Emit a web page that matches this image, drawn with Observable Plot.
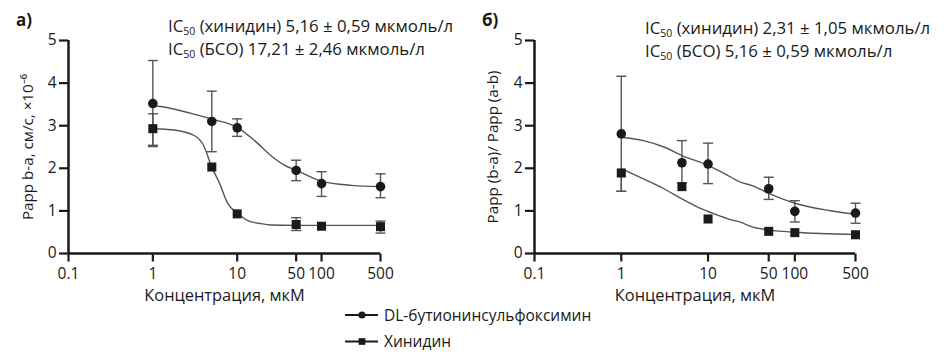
<!DOCTYPE html>
<html>
<head>
<meta charset="utf-8">
<script src="https://cdn.jsdelivr.net/npm/d3@7"></script>
<script src="https://cdn.jsdelivr.net/npm/@observablehq/plot@0.6"></script>
<style>
  html, body { margin: 0; padding: 0; background: #fff; }
  body { width: 946px; height: 363px; overflow: hidden; font-family: "Open Sans", "Noto Sans", sans-serif; color: #1a1a1a; }
  #wrap { position: relative; width: 946px; height: 363px; }
  .panel { position: absolute; top: 0; }
  .tag { position: absolute; font-weight: bold; font-size: 17px; }
  .note { position: absolute; font-size: 16.8px; line-height: 23px; white-space: nowrap; }
  .note sub { font-size: 10.5px; vertical-align: -3px; line-height: 0; }
</style>
</head>
<body>
<div id="wrap"></div>
<script>
// ---------- data ----------
const conc = [1, 5, 10, 50, 100, 500];
const xTicks = [0.1, 1, 10, 50, 100, 500];
const yTicks = [0, 1, 2, 3, 4, 5];
const seriesNames = ["DL-бутионинсульфоксимин", "Хинидин"];

// panel а) Papp b-a
const aBsoMean = [3.52, 3.10, 2.95, 1.95, 1.64, 1.57];
const aBsoLo   = [2.51, 2.39, 2.75, 1.71, 1.34, 1.31];
const aBsoHi   = [4.53, 3.81, 3.16, 2.19, 1.92, 1.87];
const aQuiMean = [2.93, 2.03, 0.93, 0.68, 0.64, 0.63];
const aQuiLo   = [2.54, null, null, 0.54, null, 0.48];
const aQuiHi   = [3.28, null, null, 0.84, null, 0.76];
const aBsoFitX = [1, 1.24, 2.83, 4.9, 10.2, 16.1, 25, 36.6, 50.5, 100, 227, 500];
const aBsoFitY = [3.47, 3.45, 3.29, 3.16, 2.95, 2.65, 2.30, 2.07, 1.95, 1.70, 1.60, 1.57];
const aQuiFitX = [1, 1.79, 3.1, 4.08, 4.9, 6.2, 7.75, 10, 13.4, 19.3, 25, 50, 100, 500];
const aQuiFitY = [2.93, 2.90, 2.77, 2.50, 2.07, 1.64, 1.17, 0.95, 0.77, 0.70, 0.67, 0.66, 0.66, 0.66];

// panel б) Papp (b-a)/Papp (a-b)
const bBsoMean = [2.81, 2.13, 2.10, 1.52, 0.99, 0.95];
const bBsoLo   = [1.46, 1.65, 1.64, 1.27, 0.74, 0.71];
const bBsoHi   = [4.16, 2.65, 2.59, 1.79, 1.24, 1.18];
const bQuiMean = [1.89, 1.57, 0.81, 0.52, 0.49, 0.44];
const bQuiLo   = [1.46, null, null, null, null, null];
const bQuiHi   = [null, null, null, null, null, null];
const bBsoFitX = [1, 1.8, 3.1, 5, 10, 15.6, 24, 31.6, 51.6, 100, 246, 500];
const bBsoFitY = [2.73, 2.65, 2.50, 2.30, 2.07, 1.87, 1.67, 1.60, 1.40, 1.18, 1.01, 0.92];
const bQuiFitX = [1, 1.8, 3.1, 5, 7.6, 11.8, 18.5, 24, 31.6, 51.6, 100, 500];
const bQuiFitY = [1.99, 1.75, 1.52, 1.28, 1.09, 0.93, 0.79, 0.73, 0.63, 0.55, 0.50, 0.45];

// ---------- helpers ----------
const FONT = '"Open Sans", "Noto Sans", sans-serif';
const INK = "#1a1a1a";
const GREY = "#555";
const capSymbol = { draw(ctx) { ctx.moveTo(-5, 0); ctx.lineTo(5, 0); } };
const xTickSymbol = { draw(ctx) { ctx.moveTo(0, 0); ctx.lineTo(0, 8); } };

function pts(mean, lo, hi) {
  return conc.map((x, i) => ({ x, y: mean[i], lo: lo[i], hi: hi[i] }));
}
function fit(xs, ys) { return xs.map((x, i) => ({ x, y: ys[i] })); }

function panel({ width, marginLeft, marginRight, bso, qui, bsoFit, quiFit, ylabel, yLabelOffset }) {
  const all = [...bso, ...qui];
  const bars = all.filter(d => d.lo != null || d.hi != null)
    .map(d => ({ x: d.x, lo: d.lo ?? d.y, hi: d.hi ?? d.y }));
  const caps = [];
  all.forEach(d => { if (d.lo != null) caps.push({ x: d.x, y: d.lo }); if (d.hi != null) caps.push({ x: d.x, y: d.hi }); });
  return Plot.plot({
    width, height: 310, marginLeft, marginRight, marginTop: 40, marginBottom: 57,
    style: { fontFamily: FONT, fontSize: "15.5px", color: INK, background: "transparent", overflow: "visible" },
    x: { type: "log", domain: [0.1, 500] },
    y: { domain: [0, 5] },
    marks: [
      Plot.line(bsoFit, { x: "x", y: "y", curve: "monotone-x", stroke: GREY, strokeWidth: 1.4 }),
      Plot.line(quiFit, { x: "x", y: "y", curve: "monotone-x", stroke: GREY, strokeWidth: 1.4 }),
      Plot.ruleX(bars, { x: "x", y1: "lo", y2: "hi", stroke: GREY, strokeWidth: 1.4 }),
      Plot.dot(caps, { x: "x", y: "y", symbol: capSymbol, stroke: GREY, strokeWidth: 1.4, r: 5 }),
      Plot.dot(bso, { x: "x", y: "y", symbol: "circle", r: 4.8, fill: INK, stroke: "none" }),
      Plot.dot(qui, { x: "x", y: "y", symbol: "square", r: 5.1, fill: INK, stroke: "none" }),
      // x axis: ticks and labels on the log scale
      Plot.dot(xTicks, { x: d => d, y: d => 0, symbol: xTickSymbol, r: 5, stroke: INK, strokeWidth: 2.2 }),
      Plot.text(xTicks, { x: d => d, y: d => 0, text: d => String(d), dy: 21, fontSize: 15.5, fill: INK }),
      Plot.axisX({ ticks: [], tickSize: 0, label: "Концентрация, мкМ", labelAnchor: "center",
        labelOffset: 47, labelArrow: "none", fontSize: 16.4, fill: INK }),
      Plot.ruleY([0], { stroke: INK, strokeWidth: 2.5 }),
      Plot.ruleX([0.1], { stroke: INK, strokeWidth: 2.5 }),
      Plot.axisY(yTicks, { tickFormat: d => String(d), tickSize: 9, tickPadding: 3, strokeWidth: 2.2, fontSize: 15.5, fill: INK,
        label: null }),
      Plot.axisY({ ticks: [], tickSize: 0, label: ylabel, labelAnchor: "center", labelOffset: yLabelOffset,
        labelArrow: "none", fontSize: 15.2, fill: INK })
    ]
  });
}

const wrap = document.getElementById("wrap");

const left = panel({
  width: 470, marginLeft: 68, marginRight: 90,
  bso: pts(aBsoMean, aBsoLo, aBsoHi), qui: pts(aQuiMean, aQuiLo, aQuiHi),
  bsoFit: fit(aBsoFitX, aBsoFitY), quiFit: fit(aQuiFitX, aQuiFitY),
  ylabel: "Papp b-a, см/с, ×10⁻⁶", yLabelOffset: 46
});
left.classList.add("panel"); left.style.left = "0px";
wrap.appendChild(left);

const right = panel({
  width: 476, marginLeft: 64, marginRight: 91,
  bso: pts(bBsoMean, bBsoLo, bBsoHi), qui: pts(bQuiMean, bQuiLo, bQuiHi),
  bsoFit: fit(bBsoFitX, bBsoFitY), quiFit: fit(bQuiFitX, bQuiFitY),
  ylabel: "Papp (b-a)/ Papp (a-b)", yLabelOffset: 47
});
right.classList.add("panel"); right.style.left = "470px";
wrap.appendChild(right);

// panel tags and IC50 notes
function addDiv(cls, html, x, y) {
  const d = document.createElement("div");
  d.className = cls; d.innerHTML = html; d.style.left = x + "px"; d.style.top = y + "px";
  wrap.appendChild(d);
}
addDiv("tag", "а)", 16, 8);
addDiv("tag", "б)", 482, 8);
addDiv("note", "IC<sub>50</sub> (хинидин) 5,16 ± 0,59 мкмоль/л<br>IC<sub>50</sub> (БСО) 17,21 ± 2,46 мкмоль/л", 168, 14);
addDiv("note", "IC<sub>50</sub> (хинидин) 2,31 ± 1,05 мкмоль/л<br>IC<sub>50</sub> (БСО) 5,16 ± 0,59 мкмоль/л", 645, 16);

// legend
const lg = d3.create("svg").attr("width", 946).attr("height", 363)
  .style("position", "absolute").style("left", "0px").style("top", "0px").style("pointer-events", "none");
const items = lg.selectAll("g").data(seriesNames).join("g")
  .attr("transform", (d, i) => `translate(345, ${315 + i * 26.5})`);
items.append("line").attr("x1", 0).attr("x2", 33).attr("stroke", INK).attr("stroke-width", 2);
items.append("path").attr("transform", "translate(17,0)").attr("fill", INK)
  .attr("d", (d, i) => d3.symbol(i === 0 ? d3.symbolCircle : d3.symbolSquare, i === 0 ? 40 : 45)());
items.append("text").attr("x", 39).attr("y", 5.5).attr("font-family", FONT).attr("font-size", 15.5)
  .attr("fill", INK).text(d => d);
wrap.appendChild(lg.node());
</script>
</body>
</html>
